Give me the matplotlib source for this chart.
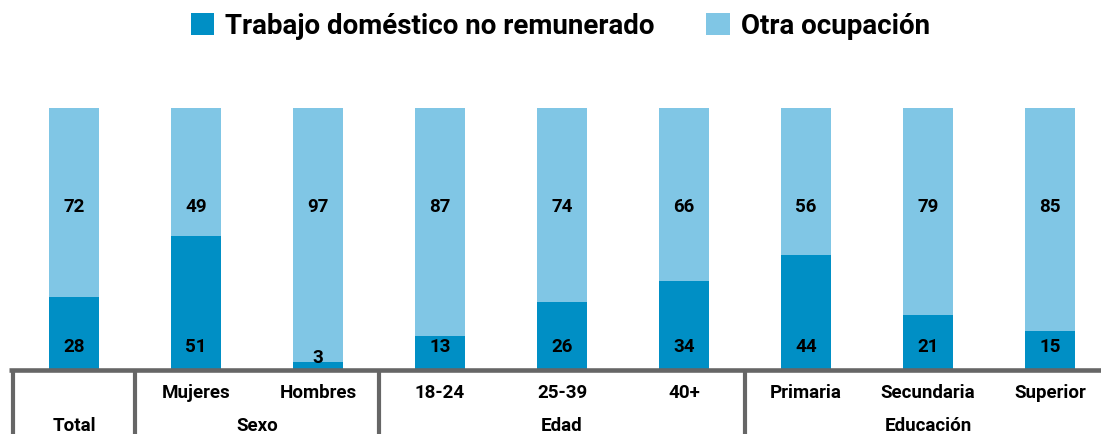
import matplotlib.pyplot as plt

categorias = ["Total", "Mujeres", "Hombres", "18-24", "25-39", "40+", "Primaria", "Secundaria", "Superior"]
trabajo_domestico = [28, 51, 3, 13, 26, 34, 44, 21, 15]
otra_ocupacion = [72, 49, 97, 87, 74, 66, 56, 79, 85]
grupos = ["Total", "Sexo", "Edad", "Educación"]
grupo_inicio = [0, 1, 3, 6]
grupo_fin = [0, 2, 5, 8]

color_oscuro = "#008FC5"
color_claro = "#80C6E5"
gris = "#666666"
fuente = ["Roboto", "DejaVu Sans"]

plt.rcParams['font.family'] = fuente

fig = plt.figure(figsize=(11.01, 4.35), dpi=100)
ax = fig.add_axes([0, 64 / 435, 1, 262 / 435])

x = list(range(len(categorias)))
b1 = ax.bar(x, trabajo_domestico, width=0.41, color=color_oscuro, label="Trabajo doméstico no remunerado")
b2 = ax.bar(x, otra_ocupacion, width=0.41, bottom=trabajo_domestico, color=color_claro, label="Otra ocupación")

for i in x:
    y_osc = 9 if trabajo_domestico[i] >= 10 else 5
    ax.text(i, y_osc, str(trabajo_domestico[i]), ha="center", va="center",
            fontsize=13.5, fontweight="bold")
    ax.text(i, 62.5, str(otra_ocupacion[i]), ha="center", va="center",
            fontsize=13.5, fontweight="bold")

ax.set_xlim(-74 / 122, (1101 - 74) / 122)
ax.set_ylim(0, 100)
ax.axis("off")

# tabla de categorias debajo
ax.plot([-0.53, 9], [0, 0], color=gris, lw=3.3, clip_on=False, solid_capstyle="butt")
for g in range(len(grupos)):
    xs = grupo_inicio[g] - 0.5
    ax.plot([xs, xs], [0, -0.3 * 100], color=gris, lw=3, clip_on=False, solid_capstyle="butt")

trans = ax.get_xaxis_transform()
for i in x:
    if categorias[i] != "Total":
        ax.text(i, -0.085, categorias[i], transform=trans, ha="center", va="center",
                fontsize=13.5, fontweight="bold")
for g in range(len(grupos)):
    xc = (grupo_inicio[g] + grupo_fin[g]) / 2
    ax.text(xc, -0.21, grupos[g], transform=trans, ha="center", va="center",
            fontsize=13.5, fontweight="bold")

fig.legend(handles=[b1, b2], loc="center", bbox_to_anchor=(0.509, 0.938), ncol=2,
           frameon=False, prop={"size": 20, "weight": "bold", "family": fuente},
           handlelength=0.85, handleheight=0.85, handletextpad=0.4, columnspacing=1.85)

fig.savefig("out.png", dpi=100)
